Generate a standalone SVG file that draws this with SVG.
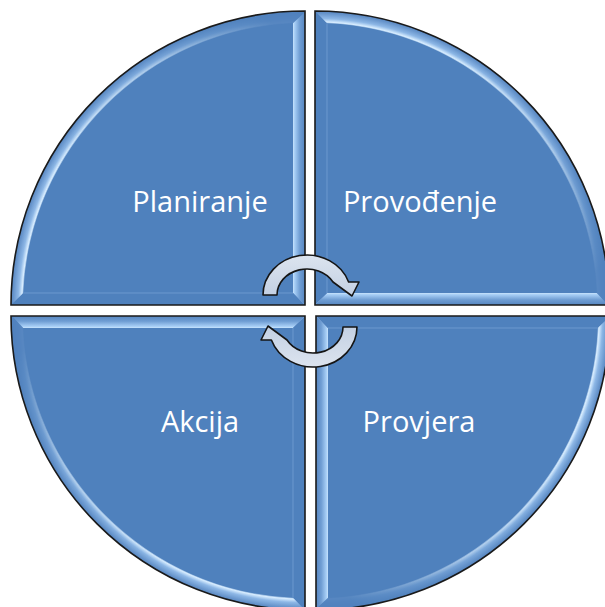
<svg xmlns="http://www.w3.org/2000/svg" xmlns:xlink="http://www.w3.org/1999/xlink" width="605" height="607" viewBox="0 0 605 607">
  <style>
    .label { font-family: "Open Sans", "Liberation Sans", sans-serif; font-size: 29px; fill: #FFFFFF; text-anchor: middle; }
    .quad { fill: #4F81BD; stroke: none; }
    .edge { fill: none; stroke: #1A1A1A; stroke-width: 1.6; }
    .arrow { fill: url(#gArrow); stroke: #151515; stroke-width: 1.6; stroke-linejoin: round; }
  </style>
  <defs>
    <linearGradient id="gStrip" x1="-13" y1="0" x2="0" y2="0" gradientUnits="userSpaceOnUse">
      <stop offset="0" stop-color="#DCEFFF"/>
      <stop offset="0.2" stop-color="#A8CFF6"/>
      <stop offset="0.6" stop-color="#6F9DD3"/>
      <stop offset="1" stop-color="#5686C1"/>
    </linearGradient>
    <radialGradient id="gArc" cx="0" cy="0" r="294" gradientUnits="userSpaceOnUse">
      <stop offset="0" stop-color="#4F81BD"/>
      <stop offset="0.955" stop-color="#4F81BD"/>
      <stop offset="0.963" stop-color="#D8EDFF"/>
      <stop offset="0.975" stop-color="#8DB7E6"/>
      <stop offset="1" stop-color="#5584BF"/>
    </radialGradient>
    <linearGradient id="gFade" x1="-230" y1="-110" x2="-40" y2="-290" gradientUnits="userSpaceOnUse">
      <stop offset="0" stop-color="#FFFFFF"/>
      <stop offset="0.55" stop-color="#B0B0B0"/>
      <stop offset="1" stop-color="#101010"/>
    </linearGradient>
    <mask id="mFade" maskUnits="userSpaceOnUse" x="-300" y="-300" width="300" height="300">
      <rect x="-300" y="-300" width="300" height="300" fill="url(#gFade)"/>
    </mask>
    <linearGradient id="gArrow" x1="0" y1="0" x2="0" y2="1">
      <stop offset="0" stop-color="#DCE4EF"/>
      <stop offset="1" stop-color="#C3D0E3"/>
    </linearGradient>
    <g id="quadShape">
      <path class="quad" d="M0,0 H-294 A294,294 0 0 1 0,-294 Z"/>
      <path d="M-294,0 A294,294 0 0 1 0,-294 L-12,-281.7 A282,282 0 0 0 -281.7,-12 Z" fill="url(#gArc)" mask="url(#mFade)"/>
      <path d="M0,-293 L0,0 L-12,-12 L-12,-281.7 Z" fill="url(#gStrip)"/>
      <path d="M-1,-1 L-12,-12 L-281.7,-12" fill="none" stroke="#6C98CE" stroke-width="1"/>
      <path class="edge" d="M0,0 H-294 A294,294 0 0 1 0,-294 Z"/>
    </g>
  </defs>
  <rect x="0" y="0" width="605" height="607" fill="#FFFFFF"/>

  <g id="node-planiranje">
    <use xlink:href="#quadShape" href="#quadShape" transform="translate(305,305)"/>
    <text class="label" x="200" y="212">Planiranje</text>
  </g>
  <g id="node-provodenje">
    <use xlink:href="#quadShape" href="#quadShape" transform="translate(315,305) rotate(90)"/>
    <text class="label" x="420" y="212">Provođenje</text>
  </g>
  <g id="node-provjera">
    <use xlink:href="#quadShape" href="#quadShape" transform="translate(316,316) rotate(180)"/>
    <text class="label" x="419" y="432">Provjera</text>
  </g>
  <g id="node-akcija">
    <use xlink:href="#quadShape" href="#quadShape" transform="translate(305,316) rotate(270)"/>
    <text class="label" x="200" y="432">Akcija</text>
  </g>

  <g id="connectors">
    <path class="arrow" d="M263,295 A44,40 0 0 1 348.6,282 L359,282 L352,296 L333,282 A30,26 0 0 0 277,295 Z"/>
    <path class="arrow" transform="rotate(180 310 311)" d="M263,295 A44,40 0 0 1 348.6,282 L359,282 L352,296 L333,282 A30,26 0 0 0 277,295 Z"/>
  </g>
</svg>
